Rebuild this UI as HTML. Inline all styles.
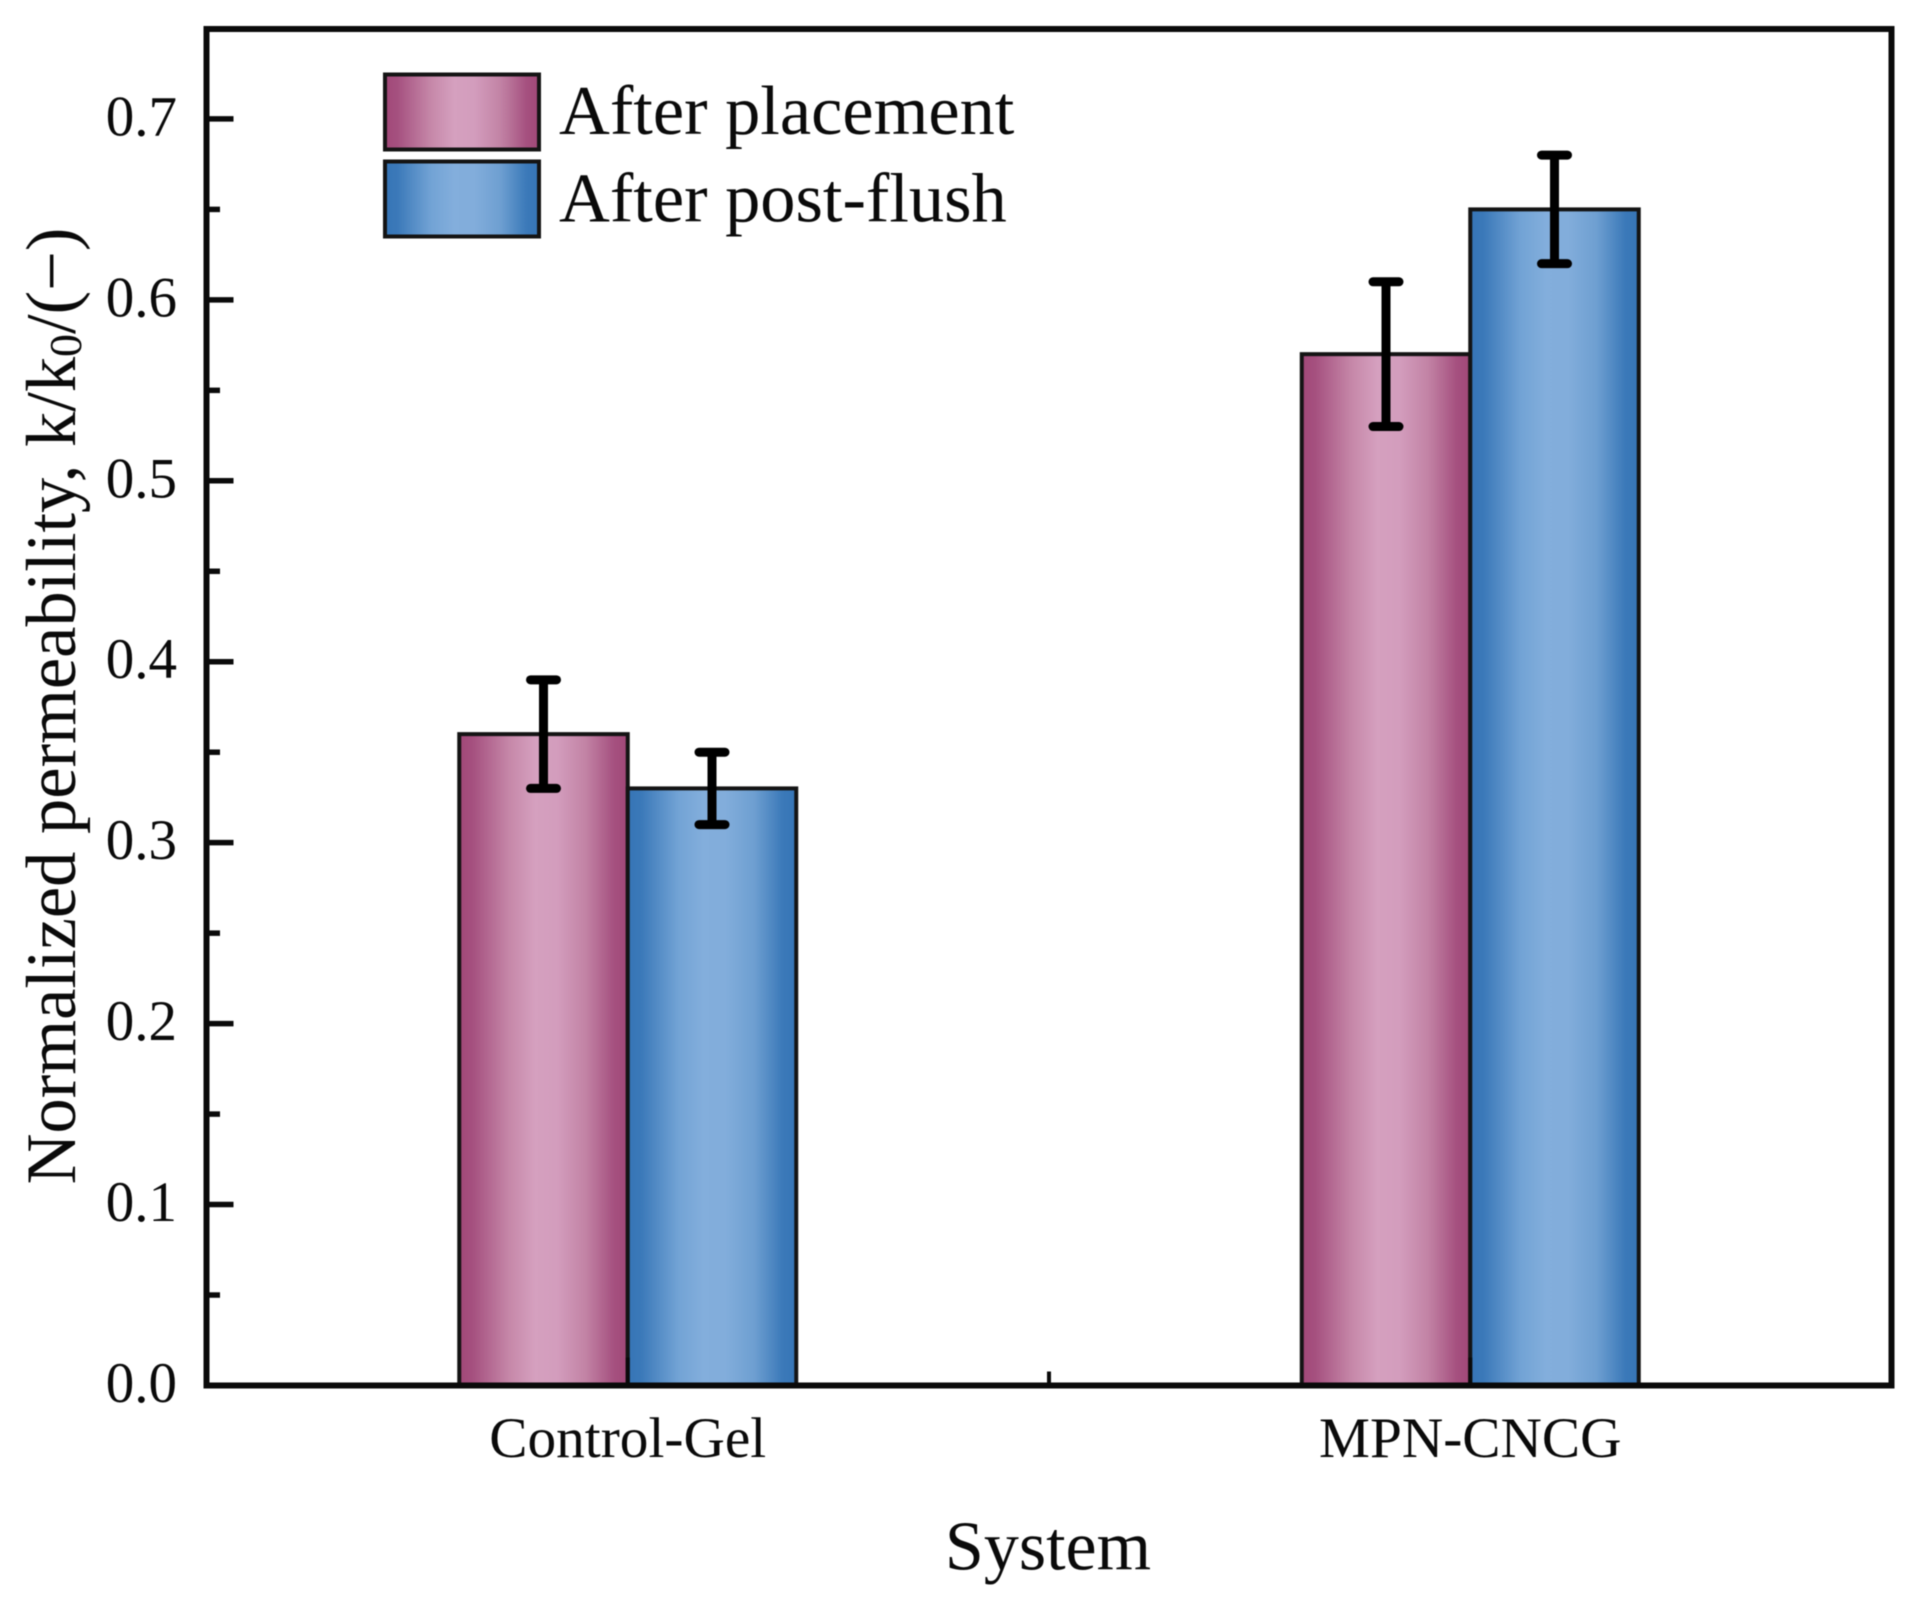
<!DOCTYPE html>
<html lang="en">
<head>
<meta charset="utf-8">
<title>Normalized permeability chart</title>
<style>
  html, body { margin: 0; padding: 0; background: #fff; }
  body { width: 1921px; height: 1601px; overflow: hidden; }
  svg { display: block; font-family: "Liberation Serif", "Times New Roman", serif; fill: #0a0a0a; filter: blur(0.6px); }
</style>
</head>
<body>
<svg id="chart" xmlns="http://www.w3.org/2000/svg" width="1921" height="1601" viewBox="0 0 1921 1601">
  <defs>
    <linearGradient id="grad-pink" x1="0" y1="0" x2="1" y2="0">
      <stop offset="0" stop-color="#a14878"/>
      <stop offset="0.08" stop-color="#a5507f"/>
      <stop offset="0.3" stop-color="#c688a9"/>
      <stop offset="0.45" stop-color="#d5a0bf"/>
      <stop offset="0.58" stop-color="#d39dbd"/>
      <stop offset="0.75" stop-color="#c283a5"/>
      <stop offset="0.92" stop-color="#a5507f"/>
      <stop offset="1" stop-color="#a14878"/>
    </linearGradient>
    <linearGradient id="grad-blue" x1="0" y1="0" x2="1" y2="0">
      <stop offset="0" stop-color="#3675b6"/>
      <stop offset="0.08" stop-color="#3b79b9"/>
      <stop offset="0.3" stop-color="#72a3d5"/>
      <stop offset="0.45" stop-color="#83aedc"/>
      <stop offset="0.58" stop-color="#82addb"/>
      <stop offset="0.75" stop-color="#6e9fd1"/>
      <stop offset="0.92" stop-color="#3b79b9"/>
      <stop offset="1" stop-color="#3675b6"/>
    </linearGradient>
  </defs>
  <rect x="0" y="0" width="1921" height="1601" fill="#ffffff"/>
  <g id="bars-layer"></g>
  <g id="axes-layer"></g>
  <g id="errors-layer"></g>
  <g id="labels-layer" font-size="57"></g>

  <text x="1048" y="1569.5" font-size="70" text-anchor="middle">System</text>
  <text transform="translate(75,706) rotate(-90)" font-size="70.5" text-anchor="middle">Normalized permeability, k/k<tspan dy="6" font-size="46">0</tspan><tspan dy="-6">/(−)</tspan></text>

  <g>
    <rect x="385" y="74.5" width="154" height="75" fill="url(#grad-pink)" stroke="#141414" stroke-width="4"/>
    <text x="559" y="134" font-size="70.4">After placement</text>
    <rect x="385" y="161.5" width="154" height="75" fill="url(#grad-blue)" stroke="#141414" stroke-width="4"/>
    <text x="559" y="221.5" font-size="70.4">After post-flush</text>
  </g>
</svg>
<script>
// Chart data
const categories = ['Control-Gel', 'MPN-CNCG'];
const seriesNames = ['After placement', 'After post-flush'];
const afterPlacement = [0.36, 0.57];
const afterPostFlush = [0.33, 0.65];
const errPlacement = [0.03, 0.04];
const errPostFlush = [0.02, 0.03];
const yTickLabels = ['0.0', '0.1', '0.2', '0.3', '0.4', '0.5', '0.6', '0.7'];
const yMinorTicks = [0.05, 0.15, 0.25, 0.35, 0.45, 0.55, 0.65];
const xDomain = [0.5, 2.5];
const yDomain = [0, 0.7497];

// Plot frame and scales
const plotLeft = 206.5;
const plotRight = 1891.5;
const plotTop = 29;
const plotBottom = 1385.5;
const barWidth = 168.5;
function xScale(v) {
  return plotLeft + (v - xDomain[0]) / (xDomain[1] - xDomain[0]) * (plotRight - plotLeft);
}
function yScale(v) {
  return plotBottom - (v - yDomain[0]) / (yDomain[1] - yDomain[0]) * (plotBottom - plotTop);
}

const NS = 'http://www.w3.org/2000/svg';
function mk(tag, geometry, parent) {
  const el = document.createElementNS(NS, tag);
  Object.keys(geometry).forEach(function (k) { el.setAttribute(k, geometry[k]); });
  parent.appendChild(el);
  return el;
}

const barsLayer = document.getElementById('bars-layer');
const axesLayer = document.getElementById('axes-layer');
const errorsLayer = document.getElementById('errors-layer');
const labelsLayer = document.getElementById('labels-layer');

// Bars
function drawSeries(values, gradient, side, key) {
  values.forEach(function (v, i) {
    const cx = xScale(i + 1);
    const x0 = side < 0 ? cx - barWidth : cx;
    const bar = mk('rect', {
      x: x0, y: yScale(v), width: barWidth, height: yScale(0) - yScale(v),
      fill: gradient, stroke: '#141414', 'stroke-width': 4
    }, barsLayer);
    
    
  });
}
drawSeries(afterPlacement, 'url(#grad-pink)', -1, 'after-placement');
drawSeries(afterPostFlush, 'url(#grad-blue)', 1, 'after-post-flush');

// Frame
const frame = mk('rect', {
  x: plotLeft, y: plotTop, width: plotRight - plotLeft, height: plotBottom - plotTop,
  fill: 'none', stroke: '#0a0a0a', 'stroke-width': 6
}, axesLayer);



// Y ticks
yTickLabels.forEach(function (label) {
  const v = parseFloat(label);
  const y = yScale(v);
  if (v > 0) {
    const tick = mk('line', { x1: plotLeft, x2: plotLeft + 27, y1: y, y2: y, stroke: '#0a0a0a', 'stroke-width': 5.5 }, axesLayer);
    
    
  }
  const text = mk('text', { x: 177, y: y + 16.5, 'text-anchor': 'end' }, labelsLayer);
  text.textContent = label;
  
  
});
yMinorTicks.forEach(function (v) {
  const y = yScale(v);
  const tick = mk('line', { x1: plotLeft, x2: plotLeft + 13.5, y1: y, y2: y, stroke: '#0a0a0a', 'stroke-width': 5.5 }, axesLayer);
  
  
});

// X ticks and category labels
categories.forEach(function (name, i) {
  const x = xScale(i + 1);
  const tick = mk('line', { x1: x, x2: x, y1: plotBottom, y2: plotBottom - 28, stroke: '#0a0a0a', 'stroke-width': 4 }, axesLayer);
  
  
  const text = mk('text', { x: x, y: 1457, 'text-anchor': 'middle', 'font-size': 57.3 }, labelsLayer);
  text.textContent = name;
  
  
});
const midTick = mk('line', { x1: xScale(1.5), x2: xScale(1.5), y1: plotBottom, y2: plotBottom - 14, stroke: '#0a0a0a', 'stroke-width': 4 }, axesLayer);



// Error bars
function drawErrors(values, errors, side, key) {
  values.forEach(function (v, i) {
    const cx = xScale(i + 1) + side * barWidth / 2;
    const hi = yScale(v + errors[i]);
    const lo = yScale(v - errors[i]);
    const stem = mk('line', { x1: cx, x2: cx, y1: hi, y2: lo, stroke: '#000', 'stroke-width': 9 }, errorsLayer);
    
    
    const capTop = mk('line', { x1: cx - 13, x2: cx + 13, y1: hi, y2: hi, stroke: '#000', 'stroke-width': 9, 'stroke-linecap': 'round' }, errorsLayer);
    
    
    const capBottom = mk('line', { x1: cx - 13, x2: cx + 13, y1: lo, y2: lo, stroke: '#000', 'stroke-width': 9, 'stroke-linecap': 'round' }, errorsLayer);
    
    
  });
}
drawErrors(afterPlacement, errPlacement, -1, 'after-placement');
drawErrors(afterPostFlush, errPostFlush, 1, 'after-post-flush');
</script>
</body>
</html>
